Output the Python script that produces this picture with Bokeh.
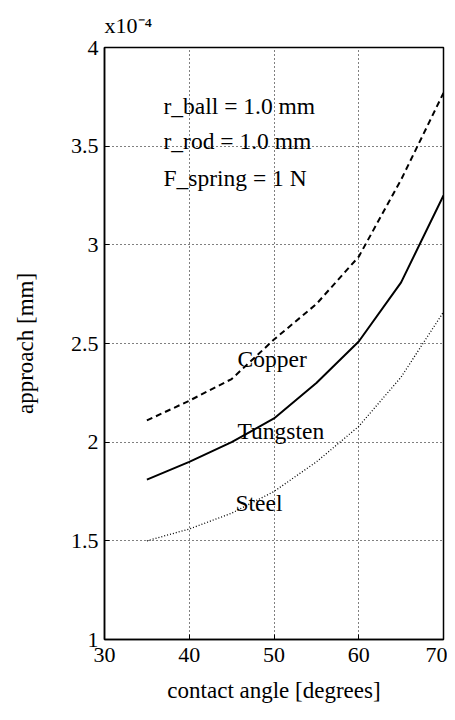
from bokeh.plotting import figure
from bokeh.models import Range1d, Label, FixedTicker
from bokeh.embed import file_html
from bokeh.resources import INLINE

# ---- data (approach in units of 1e-4 mm) ----
contact_angle = [35, 40, 45, 50, 55, 60, 65, 70]
approach_copper = [2.11, 2.21, 2.32, 2.52, 2.70, 2.94, 3.33, 3.77]
approach_tungsten = [1.81, 1.90, 2.00, 2.12, 2.30, 2.51, 2.81, 3.25]
approach_steel = [1.50, 1.56, 1.64, 1.75, 1.90, 2.08, 2.33, 2.66]

x_ticks = [30, 40, 50, 60, 70]
y_ticks = [1, 1.5, 2, 2.5, 3, 3.5, 4]
y_tick_labels = {1: "1", 1.5: "1.5", 2: "2", 2.5: "2.5", 3: "3", 3.5: "3.5", 4: "4"}

FONT = "Liberation Serif"

p = figure(width=447, height=712, output_backend="svg", toolbar_location=None,
           x_range=Range1d(30, 70), y_range=Range1d(1, 4),
           min_border_left=104, min_border_right=4, min_border_top=47, min_border_bottom=73,
           title="x10\u207b\u2074")

p.title.text_font = FONT
p.title.text_font_size = "22px"
p.title.text_font_style = "normal"
p.title.text_color = "black"
p.title.align = "left"
p.title.standoff = 19

p.background_fill_color = "white"
p.border_fill_color = "white"
p.outline_line_color = "black"
p.outline_line_width = 1.5

# axes
for ax in (p.xaxis[0], p.yaxis[0]):
    ax.axis_line_width = 1.5
    ax.axis_line_color = "black"
    ax.major_tick_in = 5
    ax.major_tick_out = 0
    ax.minor_tick_line_color = None
    ax.major_label_text_font = FONT
    ax.major_label_text_font_size = "22px"
    ax.major_label_text_color = "black"
    ax.axis_label_text_font = FONT
    ax.axis_label_text_font_size = "23px"
    ax.axis_label_text_font_style = "normal"
    ax.axis_label_text_color = "black"

p.xaxis.ticker = FixedTicker(ticks=x_ticks)
p.yaxis.ticker = FixedTicker(ticks=y_ticks)
p.yaxis.major_label_overrides = y_tick_labels
p.xaxis.axis_label = "contact angle [degrees]"
p.yaxis.axis_label = "approach [mm]"
p.xaxis.major_label_standoff = 8
p.yaxis.major_label_standoff = 6
p.xaxis.axis_label_standoff = 13
p.yaxis.axis_label_standoff = 30

# dotted grid
p.grid.grid_line_color = "black"
p.grid.grid_line_dash = "1 3"
p.grid.grid_line_width = 1
p.grid.grid_line_alpha = 1.0
p.xgrid.ticker = FixedTicker(ticks=x_ticks)
p.ygrid.ticker = FixedTicker(ticks=y_ticks)

# curves
p.line(contact_angle, approach_copper, line_color="black", line_width=2, line_dash="6 4")
p.line(contact_angle, approach_tungsten, line_color="black", line_width=2)
p.line(contact_angle, approach_steel, line_color="black", line_width=1.3, line_dash="1 2")

def lab(x, y, t, size="23.5px"):
    p.add_layout(Label(x=x, y=y, text=t, text_font=FONT, text_font_size=size,
                       text_color="black", text_baseline="alphabetic", text_align="left"))

# curve labels
lab(45.7, 2.42, "Copper")
lab(45.7, 2.056, "Tungsten")
lab(45.46, 1.69, "Steel")

# parameter annotations
lab(36.96, 3.706, "r_ball = 1.0 mm")
lab(36.96, 3.528, "r_rod = 1.0 mm")
lab(36.96, 3.34, "F_spring = 1 N")

open("out.html", "w").write(file_html(p, INLINE))
